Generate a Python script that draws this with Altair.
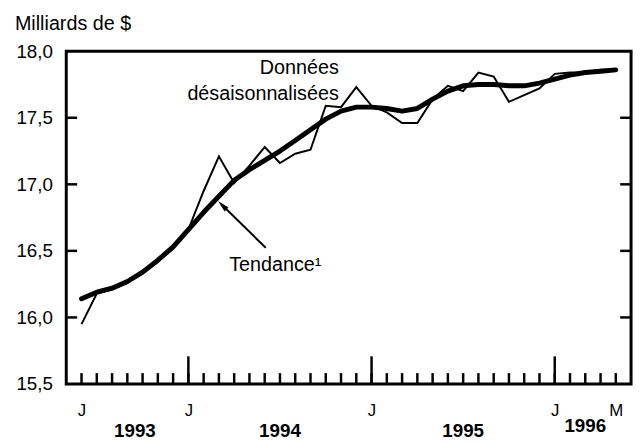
import altair as alt
import pandas as pd

FONT = "Liberation Sans"

# Months from June 1993 to May 1996
months = [
    "1993-06", "1993-07", "1993-08", "1993-09", "1993-10", "1993-11", "1993-12",
    "1994-01", "1994-02", "1994-03", "1994-04", "1994-05", "1994-06",
    "1994-07", "1994-08", "1994-09", "1994-10", "1994-11", "1994-12",
    "1995-01", "1995-02", "1995-03", "1995-04", "1995-05", "1995-06",
    "1995-07", "1995-08", "1995-09", "1995-10", "1995-11", "1995-12",
    "1996-01", "1996-02", "1996-03", "1996-04", "1996-05",
]
# Seasonally adjusted data (billions $)
sa_values = [
    15.95, 16.18, 16.21, 16.26, 16.33, 16.42, 16.52,
    16.66, 16.95, 17.21, 17.01, 17.14, 17.28,
    17.16, 17.23, 17.26, 17.59, 17.58, 17.73,
    17.59, 17.54, 17.46, 17.46, 17.64, 17.74,
    17.70, 17.84, 17.81, 17.62, 17.67, 17.72,
    17.83, 17.84, 17.84, 17.86, 17.86,
]
# Trend
trend_values = [
    16.14, 16.19, 16.22, 16.27, 16.34, 16.43, 16.53,
    16.66, 16.79, 16.91, 17.03, 17.11, 17.18,
    17.25, 17.33, 17.41, 17.49, 17.55, 17.58,
    17.58, 17.57, 17.55, 17.57, 17.64, 17.70,
    17.74, 17.75, 17.75, 17.74, 17.74, 17.76,
    17.79, 17.82, 17.84, 17.85, 17.86,
]
y_ticks = [15.5, 16.0, 16.5, 17.0, 17.5, 18.0]
inner_y_ticks = [16.0, 16.5, 17.0, 17.5]
major_months = ["1994-01", "1995-01", "1996-01"]
month_letters = {"1993-06": "J", "1994-01": "J", "1995-01": "J", "1996-01": "J", "1996-05": "M"}
years = ["1993", "1994", "1995", "1996"]

idx = {m: i for i, m in enumerate(months)}
df = pd.DataFrame({"m": list(range(len(months))), "month": months,
                   "sa": sa_values, "trend": trend_values})

# year label centres: between first month of the year and first month of next year (or last month)
starts = [min(i for m, i in idx.items() if m.startswith(y)) for y in years]
ends = starts[1:] + [len(months) - 1]
year_df = pd.DataFrame({"year": years, "m": [(a + b) / 2 for a, b in zip(starts, ends)]})

label_idx = [idx[m] for m in month_letters]
label_expr = " : ".join(
    f"datum.value == {idx[m]} ? '{l}'" for m, l in month_letters.items()
) + " : ''"

W, H = 572, 337
xs = alt.Scale(domain=[-1, 36], nice=False, zero=False)
ys = alt.Scale(domain=[15.5, 18], nice=False, zero=False)

x_axis = alt.Axis(values=label_idx, labelExpr=label_expr, ticks=False, domain=False,
                  grid=False, labelPadding=19, labelFontSize=17, labelFont=FONT,
                  labelColor="black", labelFlush=False, labelOverlap=False, title=None)
y_axis = alt.Axis(values=y_ticks, labelExpr="replace(format(datum.value, '.1f'), '.', ',')",
                  ticks=False, tickSize=0, domain=False, grid=False, labelPadding=14,
                  labelFontSize=19, labelFont=FONT, labelColor="black",
                  labelOverlap=False, title=None)

X = alt.X("m:Q", scale=xs, axis=x_axis)

base = alt.Chart(df)
sa_line = base.mark_line(color="black", strokeWidth=2).encode(
    x=X, y=alt.Y("sa:Q", scale=ys, axis=y_axis))
trend_line = base.mark_line(color="black", strokeWidth=5, strokeCap="round",
                            strokeJoin="round").encode(
    x=X, y=alt.Y("trend:Q", scale=ys, axis=y_axis))

tick_df = pd.DataFrame({"m": list(range(len(months)))})
major_df = pd.DataFrame({"m": [idx[m] for m in major_months]})
small_ticks = alt.Chart(tick_df).mark_rule(color="black", strokeWidth=2.5).encode(
    x=X, y=alt.value(H), y2=alt.value(H - 11))
big_ticks = alt.Chart(major_df).mark_rule(color="black", strokeWidth=2.5).encode(
    x=X, y=alt.value(H), y2=alt.value(H - 28))

ytick_df = pd.DataFrame({"v": inner_y_ticks})
left_ticks = alt.Chart(ytick_df).mark_rule(color="black", strokeWidth=2.5).encode(
    y=alt.Y("v:Q", scale=ys, axis=y_axis), x=alt.value(0), x2=alt.value(11))
right_ticks = alt.Chart(ytick_df).mark_rule(color="black", strokeWidth=2.5).encode(
    y=alt.Y("v:Q", scale=ys, axis=y_axis), x=alt.value(W), x2=alt.value(W - 11))

year_text = alt.Chart(year_df).transform_filter("datum.year != '1996'").mark_text(
    font=FONT, fontSize=19, fontWeight="bold", color="black", baseline="middle",
    align="center").encode(x=X, y=alt.value(385), text="year:N")
year_text96 = alt.Chart(year_df).transform_filter("datum.year == '1996'").mark_text(
    font=FONT, fontSize=19, fontWeight="bold", color="black", baseline="middle",
    align="center").encode(x=X, y=alt.value(380), text="year:N")

def label(txt, x, y, align="left", size=20):
    return alt.Chart(pd.DataFrame({"t": [txt]})).mark_text(
        font=FONT, fontSize=size, color="black", align=align, baseline="alphabetic"
    ).encode(x=alt.value(x), y=alt.value(y), text="t:N")

unit_label = label("Milliards de $", -52, -21, size=20)
donnees = label("Données", 276, 23, align="right")
desais = label("désaisonnalisées", 276, 49, align="right")
tendance = label("Tendance¹", 165, 223)

arrow_line = alt.Chart(pd.DataFrame({"a": [0]})).mark_rule(color="black", strokeWidth=2).encode(
    x=alt.value(202), y=alt.value(199), x2=alt.value(157), y2=alt.value(155))
arrow_head = alt.Chart(pd.DataFrame({"a": [0]})).mark_point(
    shape="M0,-1L0.45,1L-0.45,1Z", filled=True, color="black", opacity=1,
    size=150, angle=315).encode(x=alt.value(158), y=alt.value(156))

chart = alt.layer(
    small_ticks, big_ticks, left_ticks, right_ticks,
    trend_line, sa_line,
    year_text, year_text96, unit_label, donnees, desais, tendance,
    arrow_line, arrow_head,
).properties(
    width=W, height=H,
    autosize=alt.AutoSizeParams(type="none"),
    padding={"left": 59, "top": 41, "right": 5, "bottom": 57},
    background="white",
).configure_view(stroke="black", strokeWidth=3)

chart.save("out.html", embed_options={"renderer": "svg", "actions": False})
